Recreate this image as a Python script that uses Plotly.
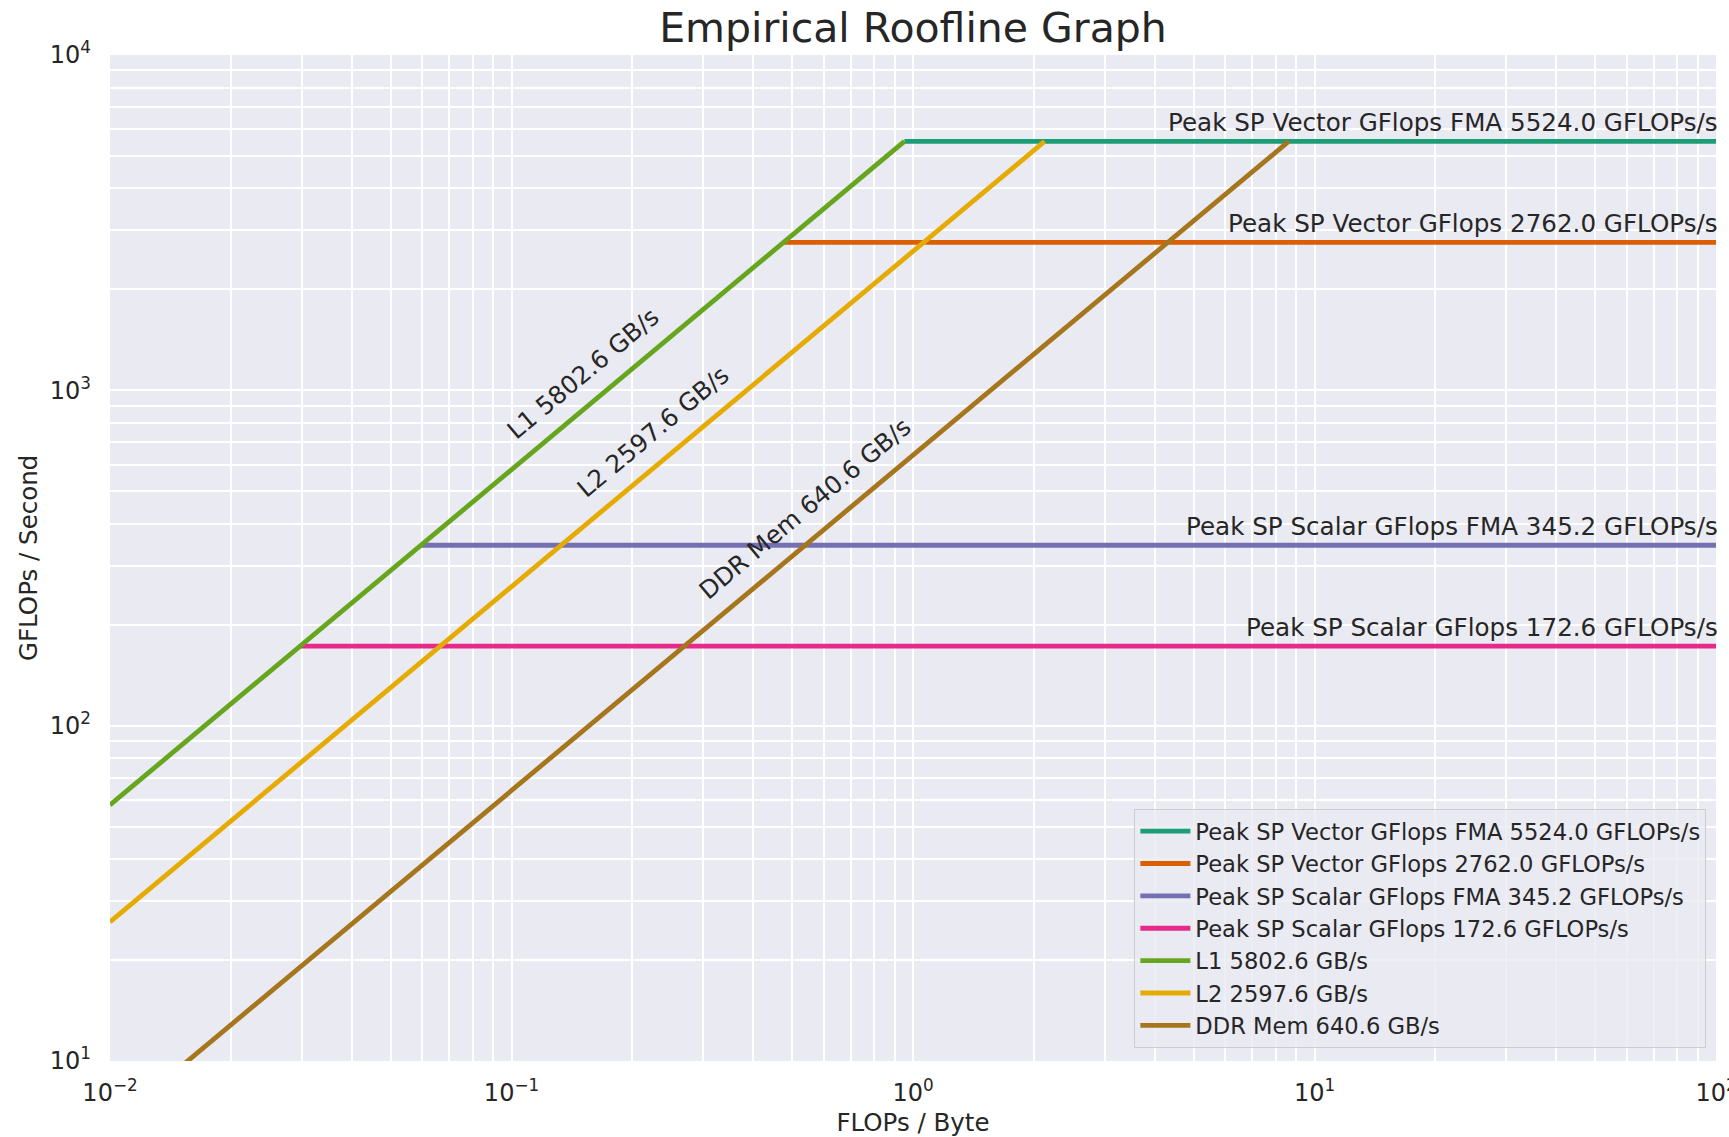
import numpy as np
import plotly.graph_objects as go

# Machine characteristics
peak_names = [
    "Peak SP Vector GFlops FMA",
    "Peak SP Vector GFlops",
    "Peak SP Scalar GFlops FMA",
    "Peak SP Scalar GFlops",
]
peak_gflops = [5524.0, 2762.0, 345.2, 172.6]

bw_names = ["L1", "L2", "DDR Mem"]
bw_gbs = [5802.6, 2597.6, 640.6]

# Position (FLOPs/Byte) along each bandwidth roof where its label sits
bw_label_x = [0.167, 0.25, 0.597]

peak_colors = ["#1b9e77", "#d95f02", "#7570b3", "#e7298a"]
bw_colors = ["#66a61e", "#e6ab02", "#a6761d"]

x_min, x_max = 0.01, 100.0
y_min, y_max = 10.0, 10000.0

W, H = 1729, 1137
M = dict(l=110, r=13, t=55, b=76)
TEXT = "#262626"
FONT = "DejaVu Sans"
LW = 4.8

fig = go.Figure()

top_bw = max(bw_gbs)
top_peak = max(peak_gflops)

# Compute ceilings start where they meet the fastest memory roof
for name, p, c in zip(peak_names, peak_gflops, peak_colors):
    label = f"{name} {p:.1f} GFLOPs/s"
    fig.add_trace(go.Scatter(
        x=[p / top_bw, x_max], y=[p, p], mode="lines",
        line=dict(color=c, width=LW), name=label,
    ))

# Memory roofs run until they meet the highest compute ceiling
for name, b, c in zip(bw_names, bw_gbs, bw_colors):
    label = f"{name} {b:.1f} GB/s"
    fig.add_trace(go.Scatter(
        x=[x_min, top_peak / b], y=[b * x_min, top_peak], mode="lines",
        line=dict(color=c, width=LW), name=label,
    ))

# Ceiling labels, right-aligned just above each line
for name, p in zip(peak_names, peak_gflops):
    fig.add_annotation(
        x=np.log10(x_max), y=np.log10(p), xref="x", yref="y",
        text=f"{name} {p:.1f} GFLOPs/s", showarrow=False,
        xanchor="right", yanchor="bottom", yshift=2, xshift=4,
        font=dict(family=FONT, size=24.6, color=TEXT),
    )

# Roof labels, rotated to follow the slope of the lines on screen
plot_w = W - M["l"] - M["r"]
plot_h = H - M["t"] - M["b"]
px_per_dec_x = plot_w / (np.log10(x_max) - np.log10(x_min))
px_per_dec_y = plot_h / (np.log10(y_max) - np.log10(y_min))
theta = np.arctan2(px_per_dec_y, px_per_dec_x)
offset = 28
for name, b, lx in zip(bw_names, bw_gbs, bw_label_x):
    fig.add_annotation(
        x=np.log10(lx), y=np.log10(b * lx), xref="x", yref="y",
        text=f"{name} {b:.1f} GB/s", showarrow=False,
        textangle=-np.degrees(theta),
        xanchor="center", yanchor="middle",
        xshift=-offset * np.sin(theta), yshift=offset * np.cos(theta),
        font=dict(family=FONT, size=24.6, color=TEXT),
    )

# Y axis title, placed in the left margin
fig.add_annotation(
    x=(28 - M["l"]) / plot_w, y=0.5, xref="paper", yref="paper",
    text="GFLOPs / Second", showarrow=False, textangle=-90,
    xanchor="center", yanchor="middle",
    font=dict(family=FONT, size=24.5, color=TEXT),
)

decades_x = [10.0 ** e for e in range(-2, 3)]
decades_y = [10.0 ** e for e in range(1, 5)]
minor_x = [k * 10.0 ** e for e in range(-2, 2) for k in range(2, 10)]
minor_y = [k * 10.0 ** e for e in range(1, 4) for k in range(2, 10)]


def sup(e):
    s = str(e).replace("-", "\u2212")
    return f"10<sup>{s}</sup>"


axis_common = dict(
    type="log", showline=False, zeroline=False, ticks="",
    gridcolor="white", gridwidth=2, ticklabeloverflow="allow",
    automargin=False,
    tickfont=dict(family=FONT, size=24, color=TEXT),
)

fig.update_xaxes(
    **axis_common,
    range=[np.log10(x_min), np.log10(x_max)],
    tickmode="array", tickvals=decades_x,
    ticktext=[sup(e) for e in range(-2, 3)],
    ticklabelstandoff=15,
    minor=dict(tickmode="array", tickvals=minor_x, showgrid=True,
               gridcolor="white", gridwidth=1.5, ticks=""),
    title=dict(text="FLOPs / Byte", standoff=7,
               font=dict(family=FONT, size=24.5, color=TEXT)),
)
fig.update_yaxes(
    **axis_common,
    range=[np.log10(y_min), np.log10(y_max)],
    tickmode="array", tickvals=decades_y,
    ticktext=[sup(e) for e in range(1, 5)],
    ticklabelstandoff=18,
    minor=dict(tickmode="array", tickvals=minor_y, showgrid=True,
               gridcolor="white", gridwidth=1.5, ticks=""),
)

fig.update_layout(
    width=W, height=H, margin=M,
    paper_bgcolor="white", plot_bgcolor="#eaeaf2",
    font=dict(family=FONT, color=TEXT),
    title=dict(text="Empirical Roofline Graph", x=0.5, xref="paper",
               xanchor="center", y=1 - 28 / H, yanchor="middle",
               font=dict(family=FONT, size=41, color=TEXT)),
    legend=dict(
        x=0.994, y=0.013, xanchor="right", yanchor="bottom",
        bgcolor="rgba(234,234,242,0.8)", bordercolor="#cccccc", borderwidth=1,
        itemwidth=50,
        font=dict(family=FONT, size=22.6, color=TEXT),
    ),
    showlegend=True,
)

fig.write_html("out.html")
